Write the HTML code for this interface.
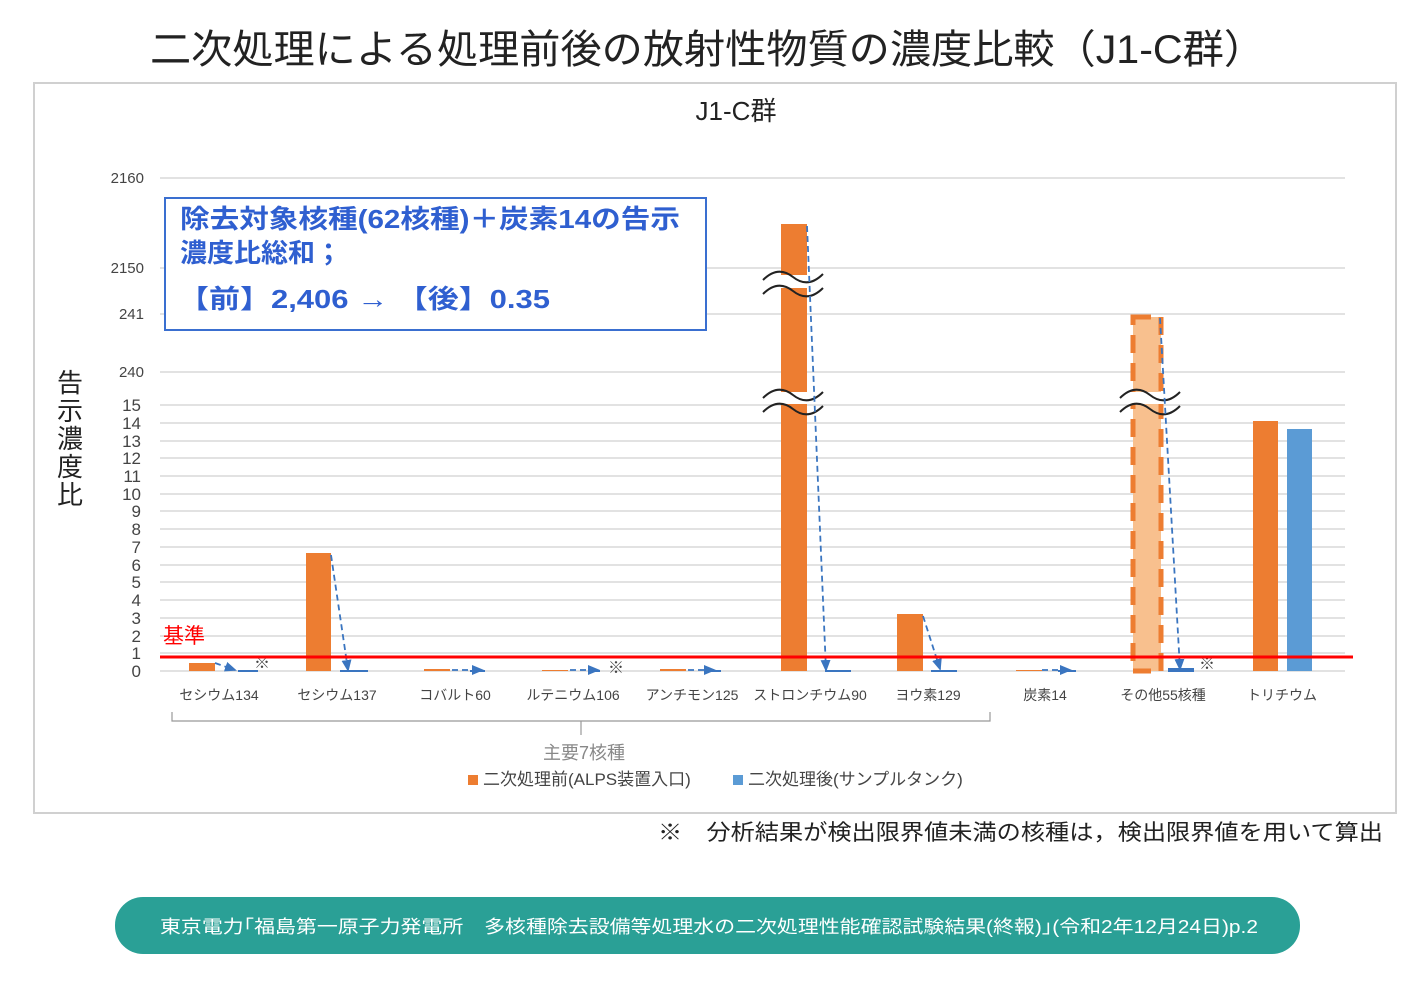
<!DOCTYPE html>
<html><head><meta charset="utf-8"><style>
body{margin:0;background:#fff;width:1423px;height:978px;overflow:hidden;font-family:"Liberation Sans","Noto Sans CJK JP",sans-serif}
</style></head><body>
<svg width="1423" height="978" viewBox="0 0 1423 978" xmlns="http://www.w3.org/2000/svg" font-family="Liberation Sans, Noto Sans CJK JP, sans-serif">
<defs><marker id="ar" markerUnits="userSpaceOnUse" markerWidth="12" markerHeight="10" refX="10" refY="5" orient="auto"><path d="M0,0 L12,5 L0,10 z" fill="#3a75c0"/></marker></defs>
<text x="150" y="63" font-size="40" fill="#222" textLength="1115" lengthAdjust="spacingAndGlyphs">二次処理による処理前後の放射性物質の濃度比較（J1-C群）</text>
<rect x="34" y="83" width="1362" height="730" fill="#fff" stroke="#d0d0d0" stroke-width="2"/>
<text x="736" y="120" font-size="26" text-anchor="middle" fill="#222">J1-C群</text>
<g stroke="#d9d9d9" stroke-width="1.5">
<line x1="160" y1="178" x2="1345" y2="178"/><line x1="160" y1="268" x2="1345" y2="268"/><line x1="160" y1="314" x2="1345" y2="314"/><line x1="160" y1="372" x2="1345" y2="372"/>
<line x1="160" y1="405" x2="1345" y2="405"/><line x1="160" y1="423" x2="1345" y2="423"/><line x1="160" y1="441" x2="1345" y2="441"/><line x1="160" y1="458" x2="1345" y2="458"/><line x1="160" y1="476" x2="1345" y2="476"/><line x1="160" y1="494" x2="1345" y2="494"/><line x1="160" y1="511" x2="1345" y2="511"/><line x1="160" y1="529" x2="1345" y2="529"/><line x1="160" y1="547" x2="1345" y2="547"/><line x1="160" y1="565" x2="1345" y2="565"/><line x1="160" y1="582" x2="1345" y2="582"/><line x1="160" y1="600" x2="1345" y2="600"/><line x1="160" y1="618" x2="1345" y2="618"/><line x1="160" y1="636" x2="1345" y2="636"/><line x1="160" y1="653" x2="1345" y2="653"/><line x1="160" y1="671" x2="1345" y2="671"/>
</g>
<g font-size="15" fill="#444" text-anchor="end">
<text x="144" y="183">2160</text><text x="144" y="273">2150</text><text x="144" y="319">241</text><text x="144" y="377">240</text>
</g>
<g font-size="17" fill="#444" text-anchor="end">
<text x="141" y="411">15</text><text x="141" y="429">14</text><text x="141" y="447">13</text><text x="141" y="464">12</text><text x="141" y="482">11</text><text x="141" y="500">10</text><text x="141" y="517">9</text><text x="141" y="535">8</text><text x="141" y="553">7</text><text x="141" y="571">6</text><text x="141" y="588">5</text><text x="141" y="606">4</text><text x="141" y="624">3</text><text x="141" y="642">2</text><text x="141" y="659">1</text><text x="141" y="677">0</text>
</g>
<g font-size="26" fill="#222" text-anchor="middle">
<text x="70" y="392">告</text><text x="70" y="420">示</text><text x="70" y="448">濃</text><text x="70" y="476">度</text><text x="70" y="504">比</text>
</g>
<g fill="#ed7d31">
<rect x="189" y="663" width="26" height="8"/>
<rect x="306" y="553" width="25" height="118"/>
<rect x="424" y="669" width="26" height="2"/>
<rect x="542" y="670" width="26" height="1"/>
<rect x="660" y="669" width="26" height="2"/>
<rect x="781" y="224" width="26" height="447"/>
<rect x="897" y="614" width="26" height="57"/>
<rect x="1016" y="670" width="26" height="1"/>
<rect x="1253" y="421" width="25" height="250"/>
</g>
<rect x="1287" y="429" width="25" height="242" fill="#5b9bd5"/>
<rect x="1133" y="317" width="28" height="354" fill="#f8c08e" stroke="#ed7d31" stroke-width="5" stroke-dasharray="18,10"/>
<g fill="#3a75c0"><rect x="238" y="670" width="20" height="2"/><rect x="340" y="670" width="28" height="2"/><rect x="825" y="670" width="26" height="2"/><rect x="931" y="670" width="26" height="2"/><rect x="1168" y="668" width="26" height="4"/><rect x="470" y="670" width="15" height="2"/><rect x="590" y="670" width="10" height="2"/><rect x="706" y="670" width="15" height="2"/><rect x="1058" y="670" width="18" height="2"/></g>
<g fill="#fff" stroke="none"><rect x="775" y="275" width="40" height="13"/><rect x="775" y="392" width="40" height="12"/><rect x="1125" y="392" width="45" height="12"/></g>
<g fill="none" stroke="#222" stroke-width="2">
<path d="M763,280 q15,-15 30,-3 t30,-3"/><path d="M763,294 q15,-15 30,-3 t30,-3"/>
<path d="M763,398 q15,-15 30,-3 t30,-3"/><path d="M763,412 q15,-15 30,-3 t30,-3"/>
<path d="M1120,398 q15,-15 30,-3 t30,-3"/><path d="M1120,412 q15,-15 30,-3 t30,-3"/>
</g>
<g stroke="#3a75c0" stroke-width="1.8" stroke-dasharray="6,4" fill="none" marker-end="url(#ar)">
<line x1="215" y1="663" x2="235" y2="670"/>
<line x1="331" y1="555" x2="348" y2="670"/>
<line x1="452" y1="670" x2="482" y2="670"/>
<line x1="570" y1="670" x2="598" y2="670"/>
<line x1="688" y1="670" x2="714" y2="670"/>
<line x1="807" y1="226" x2="826" y2="670"/>
<line x1="923" y1="616" x2="940" y2="669"/>
<line x1="1042" y1="670" x2="1070" y2="670"/>
<line x1="1160" y1="318" x2="1180" y2="669"/>
</g>
<g font-size="16" fill="#444"><text x="254" y="668">※</text><text x="608" y="673">※</text><text x="1199" y="669">※</text></g>
<line x1="160" y1="657" x2="1353" y2="657" stroke="#ff0000" stroke-width="3"/>
<text x="163" y="643" font-size="21" fill="#ff0000">基準</text>
<rect x="165" y="198" width="541" height="132" fill="#fff" stroke="#3a6fd0" stroke-width="2"/>
<g font-size="26" font-weight="bold" fill="#2f5fd0">
<text x="180" y="228" textLength="500" lengthAdjust="spacingAndGlyphs">除去対象核種(62核種)＋炭素14の告示</text>
<text x="180" y="262" textLength="162" lengthAdjust="spacingAndGlyphs">濃度比総和；</text>
<text x="178" y="308" textLength="372" lengthAdjust="spacingAndGlyphs">【前】2,406 → 【後】0.35</text></g>
<g font-size="14" fill="#444" text-anchor="middle">
<text x="219" y="700">セシウム134</text><text x="337" y="700">セシウム137</text><text x="455" y="700">コバルト60</text><text x="573" y="700">ルテニウム106</text><text x="692" y="700">アンチモン125</text><text x="810" y="700">ストロンチウム90</text><text x="928" y="700">ヨウ素129</text><text x="1045" y="700">炭素14</text><text x="1163" y="700">その他55核種</text><text x="1282" y="700">トリチウム</text>
</g>
<path d="M172,712 v9 h818 v-9 M581,721 v14" fill="none" stroke="#999" stroke-width="1.2"/>
<text x="584" y="759" font-size="18" fill="#888" text-anchor="middle">主要7核種</text>
<rect x="468" y="775" width="10" height="10" fill="#ed7d31"/>
<text x="483" y="785" font-size="17" fill="#444">二次処理前(ALPS装置入口)</text>
<rect x="733" y="775" width="10" height="10" fill="#5b9bd5"/>
<text x="748" y="785" font-size="17" fill="#444">二次処理後(サンプルタンク)</text>
<text x="658" y="840" font-size="22" fill="#222" textLength="725" lengthAdjust="spacingAndGlyphs">※　分析結果が検出限界値未満の核種は，検出限界値を用いて算出</text>
<rect x="115" y="897" width="1185" height="57" rx="28" fill="#2aa096"/>
<text x="160" y="933" font-size="18" fill="#fff" textLength="1098" lengthAdjust="spacingAndGlyphs">東京電力｢福島第一原子力発電所　多核種除去設備等処理水の二次処理性能確認試験結果(終報)｣(令和2年12月24日)p.2</text>
</svg>
</body></html>
